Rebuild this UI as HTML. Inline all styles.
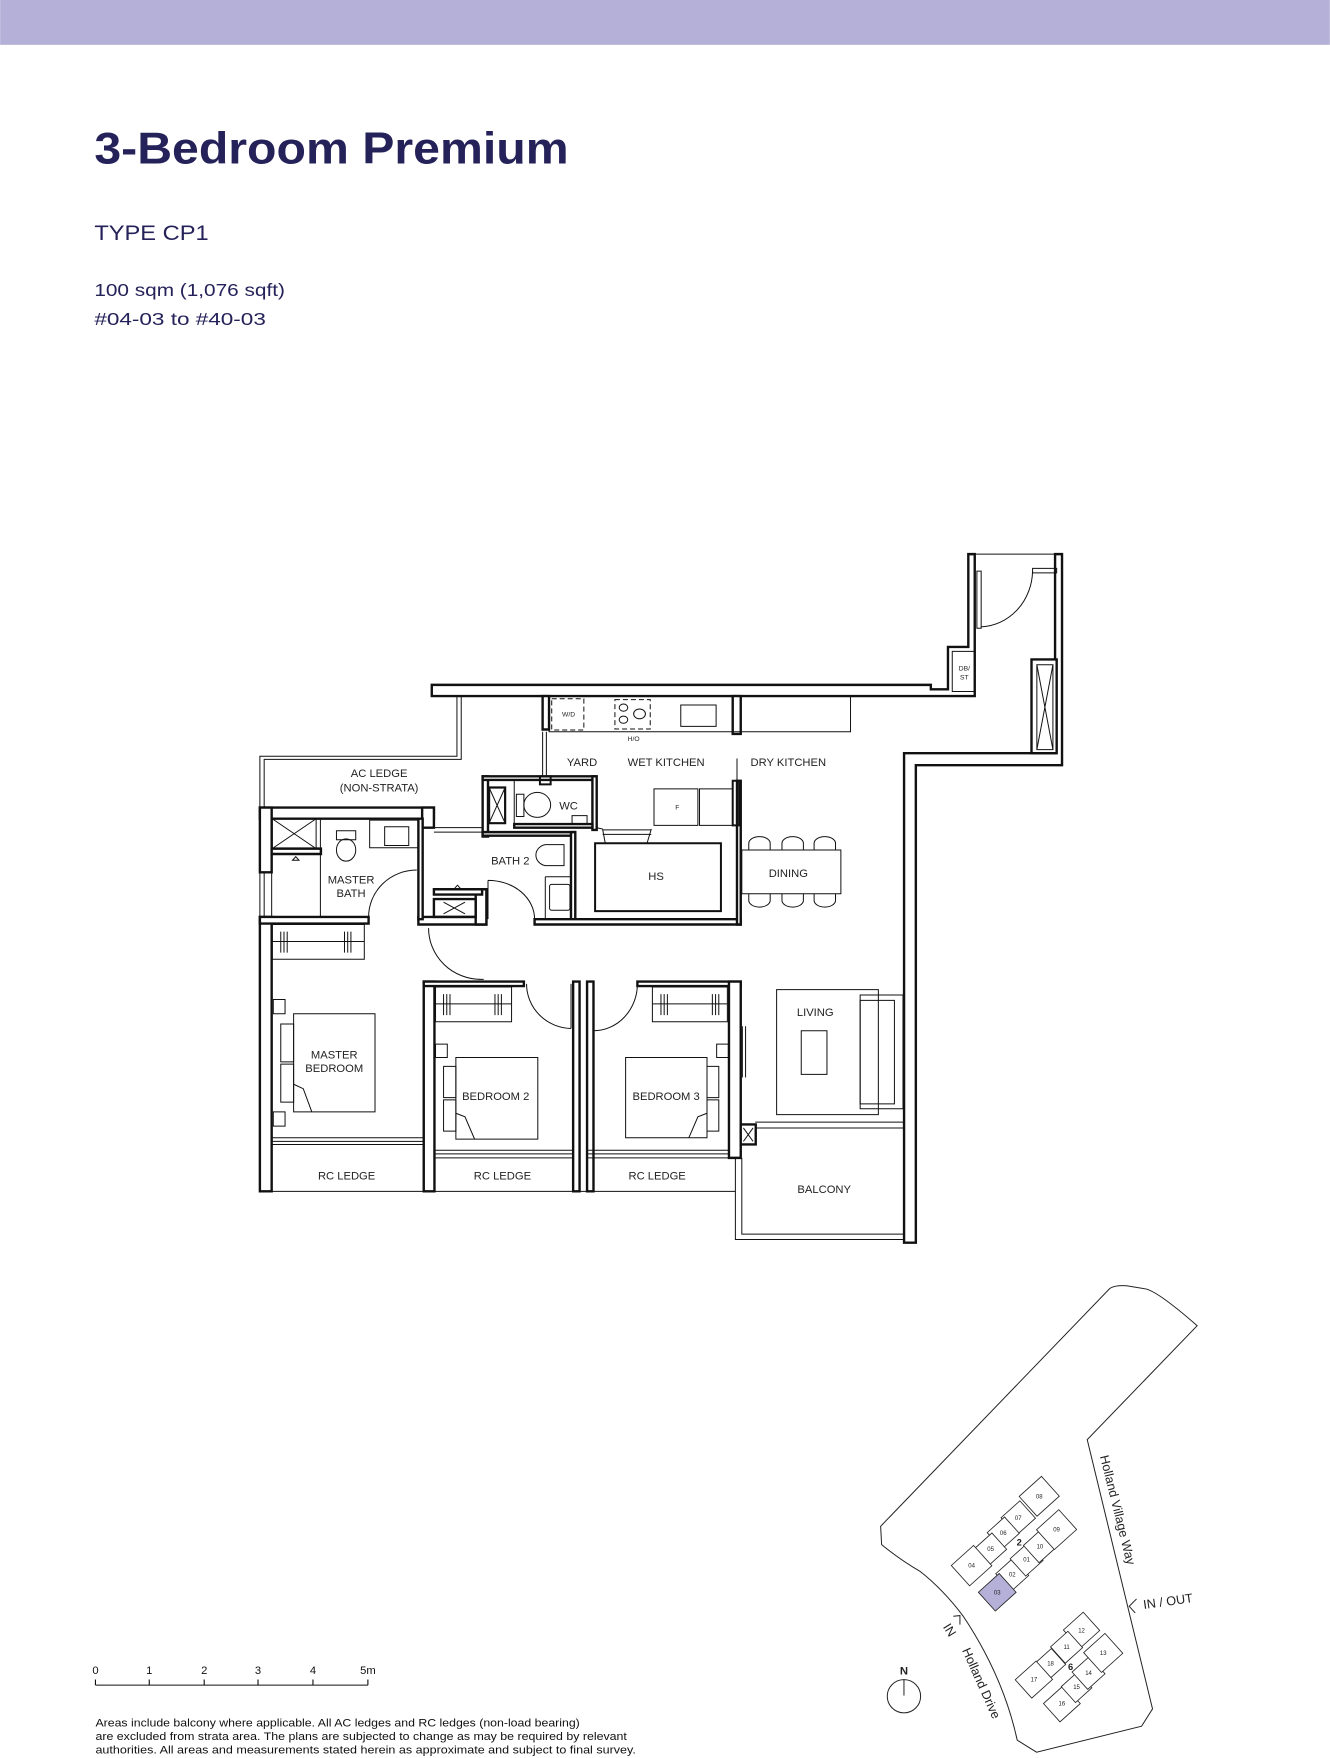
<!DOCTYPE html>
<html><head><meta charset="utf-8"><style>
html,body{margin:0;padding:0;background:#fff}
svg{display:block}
text{font-family:"Liberation Sans",sans-serif}
</style></head><body>
<svg width="1330" height="1758" viewBox="0 0 1186 1568" xmlns="http://www.w3.org/2000/svg">
<rect x="0" y="0" width="1186" height="40" fill="#b4b0d7"/>
<text x="84" y="146" font-size="40" font-weight="bold" fill="#25225a" textLength="423" lengthAdjust="spacingAndGlyphs">3-Bedroom Premium</text>
<text x="84" y="214" font-size="19" fill="#25225a" textLength="102" lengthAdjust="spacingAndGlyphs">TYPE CP1</text>
<text x="84" y="264" font-size="16" fill="#25225a" textLength="170" lengthAdjust="spacingAndGlyphs">100 sqm (1,076 sqft)</text>
<text x="84" y="290" font-size="16" fill="#25225a" textLength="153" lengthAdjust="spacingAndGlyphs">#04-03 to #40-03</text>

<g transform="translate(214,481.5) scale(0.4776,0.398)" fill="none" stroke="#111" stroke-width="1">
<g fill="#fff" stroke="#111" stroke-width="2.4">
<polygon vector-effect="non-scaling-stroke" points="358,325 1290,325 1290,335 1322,335 1322,240 1360,240 1360,32 1372,32 1372,350 358,350"/>
<polygon vector-effect="non-scaling-stroke" points="1522,32 1535,32 1535,505 1262,505 1262,1575 1240,1575 1240,478 1522,478"/>
<rect vector-effect="non-scaling-stroke" x="1478" y="268" width="47" height="210"/>
<rect vector-effect="non-scaling-stroke" x="37" y="600" width="325" height="25"/>
<rect vector-effect="non-scaling-stroke" x="340" y="600" width="22" height="45"/>
<rect vector-effect="non-scaling-stroke" x="37" y="600" width="22" height="145"/>
<rect vector-effect="non-scaling-stroke" x="37" y="845" width="22" height="615"/>
<rect vector-effect="non-scaling-stroke" x="37" y="845" width="203" height="15"/>
<rect vector-effect="non-scaling-stroke" x="333" y="845" width="127" height="17"/>
<rect vector-effect="non-scaling-stroke" x="333" y="625" width="8" height="225"/>
<rect vector-effect="non-scaling-stroke" x="59" y="692" width="92" height="12"/>
<rect vector-effect="non-scaling-stroke" x="440" y="783" width="20" height="79"/>
<rect vector-effect="non-scaling-stroke" x="362" y="783" width="90" height="12"/>
<rect vector-effect="non-scaling-stroke" x="453" y="530" width="10" height="135"/>
<rect vector-effect="non-scaling-stroke" x="453" y="530" width="212" height="8"/>
<rect vector-effect="non-scaling-stroke" x="658" y="530" width="8" height="120"/>
<rect vector-effect="non-scaling-stroke" x="512" y="637" width="146" height="8"/>
<rect vector-effect="non-scaling-stroke" x="453" y="655" width="172" height="8"/>
<rect vector-effect="non-scaling-stroke" x="618" y="655" width="8" height="195"/>
<rect vector-effect="non-scaling-stroke" x="550" y="850" width="385" height="12"/>
<rect vector-effect="non-scaling-stroke" x="928" y="540" width="7" height="322"/>
<rect vector-effect="non-scaling-stroke" x="565" y="350" width="12" height="75"/>
<rect vector-effect="non-scaling-stroke" x="920" y="350" width="15" height="85"/>
<rect vector-effect="non-scaling-stroke" x="343" y="990" width="20" height="470"/>
<rect vector-effect="non-scaling-stroke" x="343" y="990" width="187" height="10"/>
<rect vector-effect="non-scaling-stroke" x="622" y="990" width="12" height="470"/>
<rect vector-effect="non-scaling-stroke" x="648" y="990" width="12" height="470"/>
<rect vector-effect="non-scaling-stroke" x="742" y="990" width="193" height="10"/>
<rect vector-effect="non-scaling-stroke" x="913" y="990" width="22" height="395"/>
<rect vector-effect="non-scaling-stroke" x="935" y="1310" width="28" height="45"/>
</g>
<g stroke-width="1">
<line vector-effect="non-scaling-stroke" x1="1372" y1="32" x2="1525" y2="32"/>
<rect vector-effect="non-scaling-stroke" x="1376" y="70" width="8" height="128"/>
<path vector-effect="non-scaling-stroke" d="M1384,195 A100,128 0 0 0 1480,70"/>
<rect vector-effect="non-scaling-stroke" x="1480" y="64" width="45" height="10"/>
<rect vector-effect="non-scaling-stroke" x="1488" y="280" width="30" height="190"/>
<path vector-effect="non-scaling-stroke" d="M1488,280 L1518,470 M1518,280 L1488,470"/>
<rect vector-effect="non-scaling-stroke" x="1330" y="250" width="42" height="90"/>
<path vector-effect="non-scaling-stroke" d="M405,350 V485 H37 V600 M413,350 V492 H45 V600"/>
<path vector-effect="non-scaling-stroke" d="M37,745 V845 M45,745 V845 M59,745 V845"/>
<rect vector-effect="non-scaling-stroke" x="60" y="625" width="82" height="67"/>
<path vector-effect="non-scaling-stroke" d="M60,625 L142,692 M142,625 L60,692"/>
<line vector-effect="non-scaling-stroke" x1="150" y1="625" x2="150" y2="845"/>
<path vector-effect="non-scaling-stroke" d="M242,628 H333 V690 H242 Z"/>
<rect vector-effect="non-scaling-stroke" x="270" y="643" width="45" height="42"/>
<rect vector-effect="non-scaling-stroke" x="180" y="652" width="36" height="20"/>
<ellipse vector-effect="non-scaling-stroke" cx="198" cy="695" rx="18" ry="25"/>
<path vector-effect="non-scaling-stroke" d="M240,845 A90,105 0 0 1 330,740"/>
<path vector-effect="non-scaling-stroke" d="M98,718 L104,710 L110,718 Z"/>
<rect vector-effect="non-scaling-stroke" x="362" y="805" width="78" height="40" stroke-width="2.4"/>
<path vector-effect="non-scaling-stroke" d="M380,812 L420,838 M420,812 L380,838"/>
<path vector-effect="non-scaling-stroke" d="M400,782 L406,774 L412,782 Z"/>
<path vector-effect="non-scaling-stroke" d="M362,645 H453 M362,655 H453"/>
<rect vector-effect="non-scaling-stroke" x="465" y="555" width="30" height="80" stroke-width="2.2"/>
<path vector-effect="non-scaling-stroke" d="M465,555 L495,635 M495,555 L465,635"/>
<line vector-effect="non-scaling-stroke" x1="512" y1="538" x2="512" y2="640"/>
<ellipse vector-effect="non-scaling-stroke" cx="555" cy="594" rx="25" ry="28"/>
<rect vector-effect="non-scaling-stroke" x="516" y="570" width="14" height="50"/>
<rect vector-effect="non-scaling-stroke" x="620" y="618" width="28" height="20"/>
<rect vector-effect="non-scaling-stroke" x="560" y="530" width="20" height="18" stroke-width="2"/>
<path vector-effect="non-scaling-stroke" d="M565,430 V530 M572,430 V530"/>
<path vector-effect="non-scaling-stroke" d="M570,683 H605 V730 H570 A22,24 0 0 1 570,683 Z"/>
<path vector-effect="non-scaling-stroke" d="M570,755 H618 M570,755 V850"/>
<rect vector-effect="non-scaling-stroke" x="578" y="772" width="38" height="58" rx="4"/>
<path vector-effect="non-scaling-stroke" d="M463,763 V850 M463,763 A87,87 0 0 1 550,850"/>
<rect vector-effect="non-scaling-stroke" x="577" y="350" width="563" height="80"/>
<rect vector-effect="non-scaling-stroke" x="582" y="356" width="60" height="70" stroke-dasharray="5,3"/>
<rect vector-effect="non-scaling-stroke" x="700" y="358" width="66" height="66" stroke-dasharray="5,3"/>
<circle vector-effect="non-scaling-stroke" cx="716" cy="376" r="8"/><circle vector-effect="non-scaling-stroke" cx="716" cy="403" r="8"/><circle vector-effect="non-scaling-stroke" cx="746" cy="390" r="11"/>
<rect vector-effect="non-scaling-stroke" x="823" y="370" width="66" height="48"/>
<line vector-effect="non-scaling-stroke" x1="928" y1="490" x2="928" y2="540"/>
<rect vector-effect="non-scaling-stroke" x="920" y="540" width="12" height="100" stroke-width="2"/>
<rect vector-effect="non-scaling-stroke" x="773" y="558" width="82" height="82"/>
<rect vector-effect="non-scaling-stroke" x="858" y="558" width="62" height="82"/>
<path vector-effect="non-scaling-stroke" d="M665,645 L677,648 L682,680 M768,648 L760,680 M677,650 H768 M677,660 H768"/>
<rect vector-effect="non-scaling-stroke" x="663" y="680" width="235" height="152" stroke-width="2"/>
<rect vector-effect="non-scaling-stroke" x="937" y="695" width="185" height="98"/>
<path vector-effect="non-scaling-stroke" d="M950,695 V680 A20,15 0 0 1 990,680 V695 M1012,695 V680 A20,15 0 0 1 1052,680 V695 M1072,695 V680 A20,15 0 0 1 1112,680 V695"/>
<path vector-effect="non-scaling-stroke" d="M950,793 V808 A20,15 0 0 0 990,808 V793 M1012,793 V808 A20,15 0 0 0 1052,808 V793 M1072,793 V808 A20,15 0 0 0 1112,808 V793"/>
<rect vector-effect="non-scaling-stroke" x="1002" y="1008" width="190" height="280"/>
<rect vector-effect="non-scaling-stroke" x="1158" y="1020" width="80" height="255"/>
<rect vector-effect="non-scaling-stroke" x="1158" y="1032" width="64" height="232"/>
<rect vector-effect="non-scaling-stroke" x="1048" y="1100" width="48" height="98"/>
<path vector-effect="non-scaling-stroke" d="M938,1090 V1205 M944,1090 V1205"/>
<rect vector-effect="non-scaling-stroke" x="60" y="862" width="172" height="78"/>
<line vector-effect="non-scaling-stroke" x1="60" y1="900" x2="232" y2="900"/>
<path vector-effect="non-scaling-stroke" d="M76,878 V925 M82,878 V925 M88,878 V925 M195,878 V925 M201,878 V925 M207,878 V925"/>
<rect vector-effect="non-scaling-stroke" x="100" y="1062" width="152" height="220"/>
<rect vector-effect="non-scaling-stroke" x="76" y="1085" width="24" height="85"/>
<rect vector-effect="non-scaling-stroke" x="76" y="1175" width="24" height="85"/>
<path vector-effect="non-scaling-stroke" d="M100,1220 L118,1230 L134,1282"/>
<rect vector-effect="non-scaling-stroke" x="62" y="1030" width="22" height="32"/>
<rect vector-effect="non-scaling-stroke" x="62" y="1282" width="22" height="32"/>
<path vector-effect="non-scaling-stroke" d="M59,1340 H343 M59,1348 H343 M59,1355 H343"/>
<path vector-effect="non-scaling-stroke" d="M352,870 A98,115 0 0 0 450,985 M445,985 H455"/>
<rect vector-effect="non-scaling-stroke" x="365" y="1002" width="142" height="78"/>
<line vector-effect="non-scaling-stroke" x1="365" y1="1040" x2="507" y2="1040"/>
<path vector-effect="non-scaling-stroke" d="M380,1018 V1065 M386,1018 V1065 M392,1018 V1065 M476,1018 V1065 M482,1018 V1065 M488,1018 V1065"/>
<rect vector-effect="non-scaling-stroke" x="403" y="1160" width="153" height="183"/>
<rect vector-effect="non-scaling-stroke" x="380" y="1180" width="23" height="70"/>
<rect vector-effect="non-scaling-stroke" x="380" y="1255" width="23" height="70"/>
<path vector-effect="non-scaling-stroke" d="M403,1285 L420,1293 L438,1343"/>
<rect vector-effect="non-scaling-stroke" x="365" y="1130" width="22" height="30"/>
<path vector-effect="non-scaling-stroke" d="M535,995 A85,100 0 0 0 618,1095 M618,995 V1095"/>
<path vector-effect="non-scaling-stroke" d="M365,1368 H622 M365,1376 H622 M365,1385 H622"/>
<rect vector-effect="non-scaling-stroke" x="770" y="1002" width="140" height="78"/>
<line vector-effect="non-scaling-stroke" x1="770" y1="1040" x2="910" y2="1040"/>
<path vector-effect="non-scaling-stroke" d="M786,1018 V1065 M792,1018 V1065 M798,1018 V1065 M882,1018 V1065 M888,1018 V1065 M894,1018 V1065"/>
<rect vector-effect="non-scaling-stroke" x="720" y="1160" width="152" height="180"/>
<rect vector-effect="non-scaling-stroke" x="872" y="1180" width="22" height="70"/>
<rect vector-effect="non-scaling-stroke" x="872" y="1255" width="22" height="70"/>
<path vector-effect="non-scaling-stroke" d="M872,1285 L855,1293 L838,1340"/>
<rect vector-effect="non-scaling-stroke" x="890" y="1130" width="22" height="30"/>
<path vector-effect="non-scaling-stroke" d="M742,995 A82,105 0 0 1 660,1100 M660,995 V1100"/>
<path vector-effect="non-scaling-stroke" d="M940,1318 L958,1348 M958,1318 L940,1348"/>
<path vector-effect="non-scaling-stroke" d="M650,1368 H913 M650,1376 H913 M650,1385 H913"/>
<path vector-effect="non-scaling-stroke" d="M37,1460 H925"/>
<path vector-effect="non-scaling-stroke" d="M925,1385 V1568 H1240 M937,1385 V1556 H1240"/>
<path vector-effect="non-scaling-stroke" d="M962,1305 H1240 M962,1318 H1240"/>
</g>
</g>

<g font-size="10" fill="#222" text-anchor="middle">
<text x="338" y="693">AC LEDGE</text>
<text x="338" y="706">(NON-STRATA)</text>
<text x="519" y="683">YARD</text>
<text x="594" y="683">WET KITCHEN</text>
<text x="703" y="683">DRY KITCHEN</text>
<text x="507" y="722">WC</text>
<text x="455" y="771">BATH 2</text>
<text x="313" y="788">MASTER</text>
<text x="313" y="800">BATH</text>
<text x="585" y="785">HS</text>
<text x="703" y="782">DINING</text>
<text x="727" y="906">LIVING</text>
<text x="298" y="944">MASTER</text>
<text x="298" y="956">BEDROOM</text>
<text x="442" y="981">BEDROOM 2</text>
<text x="594" y="981">BEDROOM 3</text>
<text x="309" y="1052">RC LEDGE</text>
<text x="448" y="1052">RC LEDGE</text>
<text x="586" y="1052">RC LEDGE</text>
<text x="735" y="1064">BALCONY</text>
<g font-size="6"><text x="507" y="639">W/D</text><text x="565" y="661">H/O</text><text x="604" y="722">F</text><text x="860" y="598">DB/</text><text x="860" y="606">ST</text></g>
</g>

<g fill="#111" font-size="10" text-anchor="middle">
<text x="85" y="1493">0</text><text x="133" y="1493">1</text><text x="182" y="1493">2</text><text x="230" y="1493">3</text><text x="279" y="1493">4</text><text x="328" y="1493">5m</text>
</g>
<path d="M85,1503 H328 M85,1498 V1503 M133,1498 V1503 M182,1498 V1503 M230,1498 V1503 M279,1498 V1503 M328,1498 V1503" stroke="#111" stroke-width="1" fill="none"/>
<g font-size="9.6" fill="#111">
<text x="85" y="1540" textLength="432" lengthAdjust="spacingAndGlyphs">Areas include balcony where applicable. All AC ledges and RC ledges (non-load bearing)</text>
<text x="85" y="1552" textLength="474" lengthAdjust="spacingAndGlyphs">are excluded from strata area. The plans are subjected to change as may be required by relevant</text>
<text x="85" y="1564" textLength="482" lengthAdjust="spacingAndGlyphs">authorities. All areas and measurements stated herein as approximate and subject to final survey.</text>
</g>

<g transform="translate(766.9,1132.5) scale(0.2972)" fill="none" stroke="#222" stroke-width="3">
<path d="M62,770 L750,56 Q765,46 800,48 L860,58 Q900,70 1012,168 L682,510 L878,1318 L845,1370 L530,1448 L472,1412 Q430,1220 310,1040 Q250,960 180,905 Q120,870 65,825 Z"/>
<g stroke-width="2.5" fill="#fff">
<g transform="rotate(-42 538 680)"><rect x="493" y="640" width="90" height="80"/></g>
<g transform="rotate(-42 475 745)"><rect x="437" y="710" width="76" height="70"/></g>
<g transform="rotate(-42 430 790)"><rect x="395" y="757" width="70" height="66"/></g>
<g transform="rotate(-42 392 838)"><rect x="357" y="805" width="70" height="66"/></g>
<g transform="rotate(-42 335 888)"><rect x="290" y="847" width="90" height="82"/></g>
<g transform="rotate(-42 457 915)"><rect x="422" y="880" width="70" height="70"/></g>
<g transform="rotate(-42 500 870)"><rect x="465" y="835" width="70" height="70"/></g>
<g transform="rotate(-42 540 830)"><rect x="505" y="795" width="70" height="70"/></g>
<g transform="rotate(-42 590 780)"><rect x="545" y="740" width="90" height="80"/></g>
<g transform="rotate(-42 412 968)"><rect x="370" y="930" width="84" height="76" fill="#b4b0d7"/></g>
<g transform="rotate(-42 665 1082)"><rect x="625" y="1045" width="80" height="74"/></g>
<g transform="rotate(-42 620 1133)"><rect x="585" y="1100" width="70" height="66"/></g>
<g transform="rotate(-42 572 1182)"><rect x="540" y="1150" width="64" height="64"/></g>
<g transform="rotate(-42 522 1230)"><rect x="480" y="1193" width="84" height="74"/></g>
<g transform="rotate(-42 606 1302)"><rect x="565" y="1265" width="82" height="74"/></g>
<g transform="rotate(-42 650 1253)"><rect x="617" y="1221" width="66" height="64"/></g>
<g transform="rotate(-42 686 1210)"><rect x="651" y="1175" width="70" height="70"/></g>
<g transform="rotate(-42 730 1150)"><rect x="687" y="1110" width="86" height="80"/></g>
</g>
<g stroke="none" fill="#222" font-size="18" text-anchor="middle">
<text x="538" y="686">08</text><text x="475" y="751">07</text><text x="430" y="796">06</text><text x="392" y="844">05</text><text x="335" y="894">04</text><text x="412" y="974">03</text><text x="457" y="921">02</text><text x="500" y="876">01</text><text x="540" y="836">10</text><text x="590" y="786">09</text>
<text x="665" y="1088">12</text><text x="620" y="1139">11</text><text x="572" y="1188">18</text><text x="522" y="1236">17</text><text x="606" y="1308">16</text><text x="650" y="1259">15</text><text x="686" y="1216">14</text><text x="730" y="1156">13</text>
<text x="478" y="828" font-size="28" font-weight="bold">2</text><text x="632" y="1202" font-size="28" font-weight="bold">6</text>
<text x="0" y="0" font-size="38" transform="translate(720,560) rotate(76)" text-anchor="start">Holland Village Way</text>
<text x="0" y="0" font-size="38" transform="translate(306,1142) rotate(66)" text-anchor="start">Holland Drive</text>
<text x="0" y="0" font-size="38" transform="translate(852,1018) rotate(-8)" text-anchor="start">IN / OUT</text>
<text x="0" y="0" font-size="38" transform="translate(258,1088) rotate(58)" text-anchor="middle">IN</text>
<text x="132" y="1215" font-size="34" font-weight="bold">N</text>
</g>
<path d="M830,988 L808,1010 L826,1030 M280,1040 L300,1038 L300,1065"/>
<circle cx="132" cy="1280" r="50"/>
<line x1="132" y1="1230" x2="132" y2="1278"/>
</g>
</svg>
</body></html>
